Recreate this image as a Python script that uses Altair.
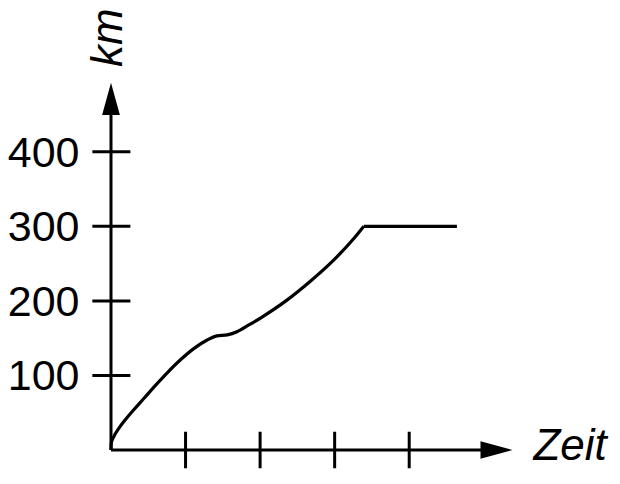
import altair as alt
import pandas as pd

# ---- data ----
curve_t = [0.0, 0.003, 0.038, 0.105, 0.195, 0.306, 0.44, 0.60, 0.754, 0.932, 1.11, 1.29, 1.42, 1.56,
           1.69, 1.85, 2.00, 2.36, 2.67, 2.99, 3.26, 3.39]
curve_km = [0, 9, 18, 29, 41, 54, 69, 87, 103.5, 121, 136, 147.5, 153, 154.5,
            158.7, 167.7, 176.7, 201, 226, 255, 284, 300]
plateau_t = [3.39, 4.64]
plateau_km = [300, 300]
y_ticks = [100, 200, 300, 400]
y_labels = ["100", "200", "300", "400"]
x_ticks = [1, 2, 3, 4]
x_title = "Zeit"
y_title = "km"

FONT = "Liberation Sans, Arial, Helvetica, sans-serif"
W, H = 604, 468
xs = alt.Scale(domain=[-1.3816, 6.7203], nice=False, zero=False)
ys = alt.Scale(domain=[-34.88, 592.9], nice=False, zero=False)


def X(f):
    return alt.X(f, type="quantitative", scale=xs, axis=None)


def Y(f):
    return alt.Y(f, type="quantitative", scale=ys, axis=None)


curve = alt.Chart(pd.DataFrame({"t": curve_t, "km": curve_km})).mark_line(
    interpolate="monotone", color="black", strokeWidth=3.2
).encode(x=X("t"), y=Y("km"))

plateau = alt.Chart(pd.DataFrame({"t": plateau_t, "km": plateau_km})).mark_line(
    color="black", strokeWidth=3.2
).encode(x=X("t"), y=Y("km"))

x_axis = alt.Chart(pd.DataFrame({"a": [0.0], "b": [5.0], "y": [0.0]})).mark_rule(
    color="black", strokeWidth=3
).encode(x=X("a"), x2="b", y=Y("y"))

y_axis = alt.Chart(pd.DataFrame({"x": [0.0], "a": [0.0], "b": [455.0]})).mark_rule(
    color="black", strokeWidth=3
).encode(x=X("x"), y=Y("a"), y2="b")

ytick_df = pd.DataFrame({"km": y_ticks, "a": [-0.25] * 4, "b": [0.26] * 4, "lab": y_labels})
yticks = alt.Chart(ytick_df).mark_rule(color="black", strokeWidth=3).encode(
    x=X("a"), x2="b", y=Y("km")
)
ylabels = alt.Chart(ytick_df.assign(lx=-0.4225)).mark_text(
    align="right", baseline="alphabetic", dy=15, font=FONT, fontSize=43, color="black"
).encode(x=X("lx"), y=Y("km"), text="lab:N")

xtick_df = pd.DataFrame({"t": x_ticks, "a": [-24.5] * 4, "b": [24.5] * 4})
xticks = alt.Chart(xtick_df).mark_rule(color="black", strokeWidth=3).encode(
    x=X("t"), y=Y("a"), y2="b"
)

arrow_x = alt.Chart(pd.DataFrame({"x": [5.171], "y": [0.0]})).mark_point(
    shape="M-1,-0.55L1,0L-1,0.55Z", size=1024, filled=True, color="black", opacity=1, strokeWidth=0
).encode(x=X("x"), y=Y("y"))

arrow_y = alt.Chart(pd.DataFrame({"x": [0.0], "y": [471.0]})).mark_point(
    shape="M-0.55,1L0,-1L0.55,1Z", size=1043, filled=True, color="black", opacity=1, strokeWidth=0
).encode(x=X("x"), y=Y("y"))

xtitle = alt.Chart(pd.DataFrame({"x": [5.667], "y": [-13.4], "t": [x_title]})).mark_text(
    align="left", baseline="alphabetic", font=FONT, fontSize=44, fontStyle="italic", color="black"
).encode(x=X("x"), y=Y("y"), text="t:N")

ytitle = alt.Chart(pd.DataFrame({"x": [0.154], "y": [513.7], "t": [y_title]})).mark_text(
    align="left", baseline="alphabetic", angle=270, font=FONT, fontSize=44, fontStyle="italic", color="black"
).encode(x=X("x"), y=Y("y"), text="t:N")

chart = alt.layer(
    curve, plateau, x_axis, y_axis, yticks, ylabels, xticks, arrow_x, arrow_y, xtitle, ytitle
).properties(
    width=W, height=H, padding=0, autosize=alt.AutoSizeParams(type="none"), background="white"
).configure_view(strokeWidth=0)

chart.save("out.html", embed_options={"renderer": "svg", "actions": False})
